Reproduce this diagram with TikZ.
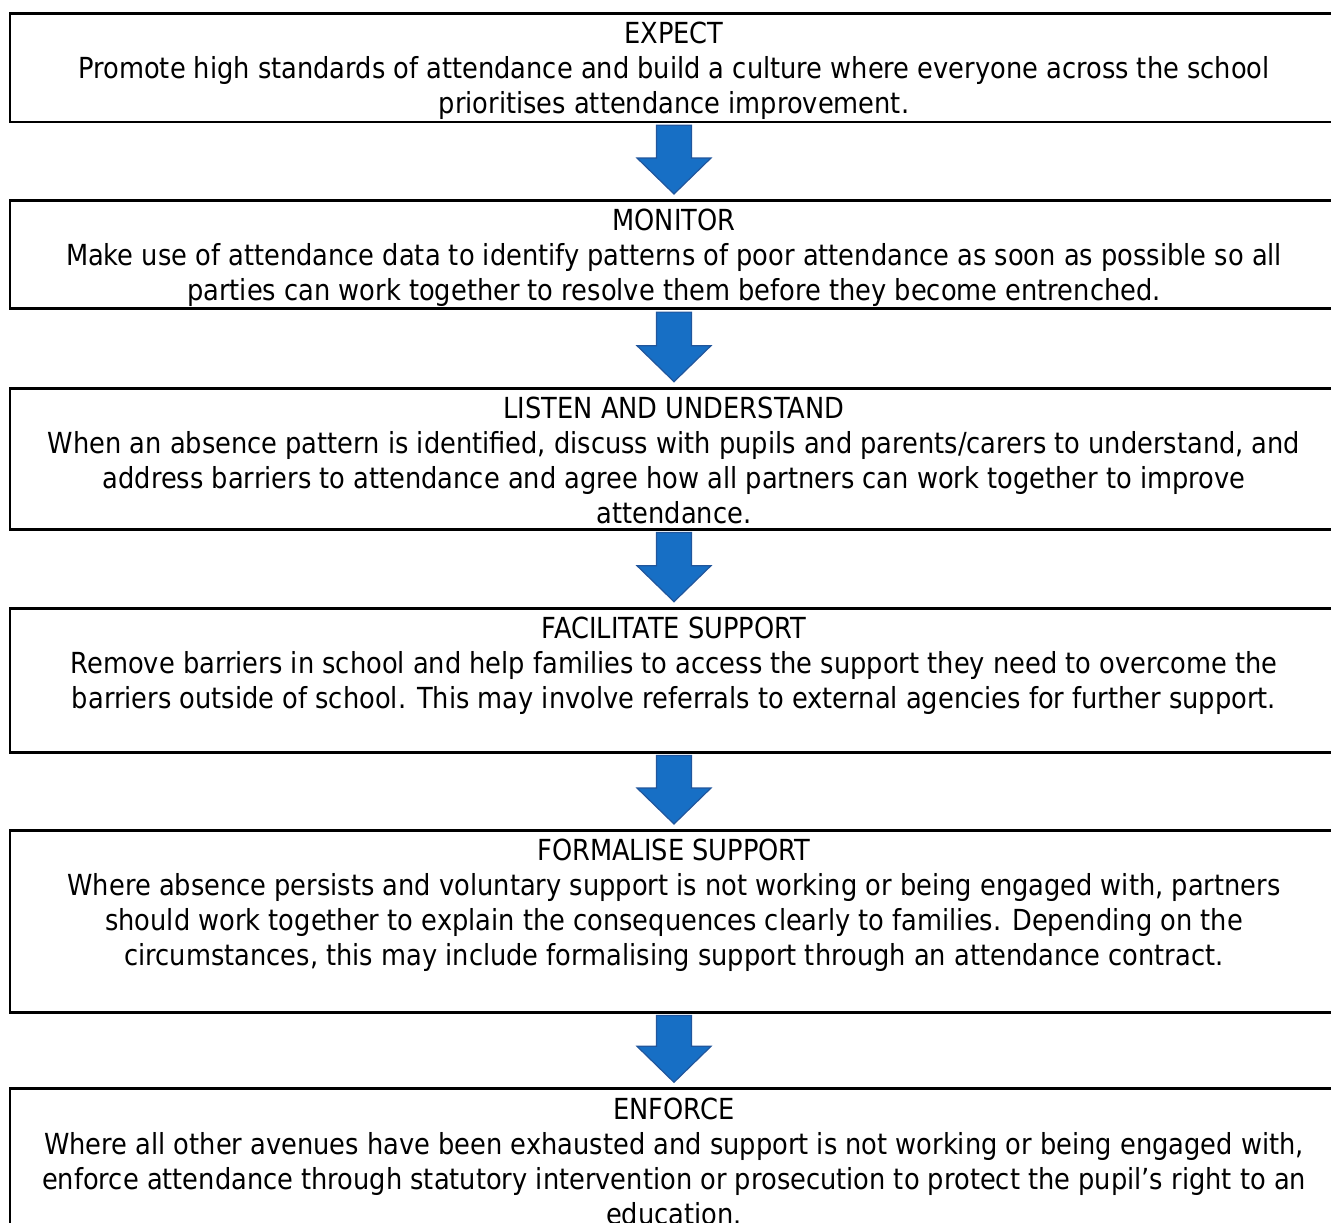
\documentclass[tikz,border=0pt]{standalone}
\usepackage{fontspec}
\setmainfont{DejaVu Sans}[FakeStretch=0.886]
\usetikzlibrary{calc}
\definecolor{arrowfill}{RGB}{23,111,197}
\definecolor{arrowline}{RGB}{33,86,156}

\begin{document}
\begin{tikzpicture}[x=1pt,y=-1pt,
  stage/.style={draw=black,line width=2.8pt,minimum width=1328pt,inner sep=0pt,anchor=north},
  stagetext/.style={anchor=north,align=center,inner sep=0pt,font=\fontsize{29}{35}\selectfont},
  downarrow/.style={fill=arrowfill,draw=arrowline,line width=1.2pt,line join=miter}]
\useasboundingbox (0,0) rectangle (1331,1223);
\clip (0,0) rectangle (1331,1223);
\node[stage,minimum height=108.5pt] (expect) at (674,12) {};
\node[stage,minimum height=108.3pt] (monitor) at (674,199) {};
\node[stage,minimum height=141pt] (listen) at (674,386.7) {};
\node[stage,minimum height=144pt] (facilitate) at (674,606.7) {};
\node[stage,minimum height=181.7pt] (formalise) at (674,829) {};
\node[stage,minimum height=200pt] (enforce) at (674,1087.3) {};
\node[stagetext] (expecttxt) at ($(expect.north)+(0,10)$) {EXPECT\\
  Promote high standards of attendance and build a culture where everyone across the school\\
  prioritises attendance improvement.};
\node[stagetext] (monitortxt) at ($(monitor.north)+(0,10)$) {MONITOR\\
  Make use of attendance data to identify patterns of poor attendance as soon as possible so all\\
  parties can work together to resolve them before they become entrenched.};
\node[stagetext] (listentxt) at ($(listen.north)+(0,10)$) {LISTEN AND UNDERSTAND\\
  When an absence pattern is identified, discuss with pupils and parents/carers to understand, and\\
  address barriers to attendance and agree how all partners can work together to improve\\
  attendance.};
\node[stagetext] (facilitatetxt) at ($(facilitate.north)+(0,10)$) {FACILITATE SUPPORT\\
  Remove barriers in school and help families to access the support they need to overcome the\\
  barriers outside of school. This may involve referrals to external agencies for further support.};
\node[stagetext] (formalisetxt) at ($(formalise.north)+(0,10)$) {FORMALISE SUPPORT\\
  Where absence persists and voluntary support is not working or being engaged with, partners\\
  should work together to explain the consequences clearly to families. Depending on the\\
  circumstances, this may include formalising support through an attendance contract.};
\node[stagetext] (enforcetxt) at ($(enforce.north)+(0,10)$) {ENFORCE\\
  Where all other avenues have been exhausted and support is not working or being engaged with,\\
  enforce attendance through statutory intervention or prosecution to protect the pupil’s right to an\\
  education.};
\foreach \a/\b in {expect/monitor,monitor/listen,listen/facilitate,facilitate/formalise,formalise/enforce}
  \draw[downarrow] ($(\a.south)+(-17.5,2)$) -- ($(\a.south)+(17.5,2)$) -- ($(\b.north)+(17.5,-41)$)
    -- ($(\b.north)+(37,-41)$) -- ($(\b.north)+(0,-5)$) -- ($(\b.north)+(-37,-41)$)
    -- ($(\b.north)+(-17.5,-41)$) -- cycle;
\end{tikzpicture}
\end{document}
